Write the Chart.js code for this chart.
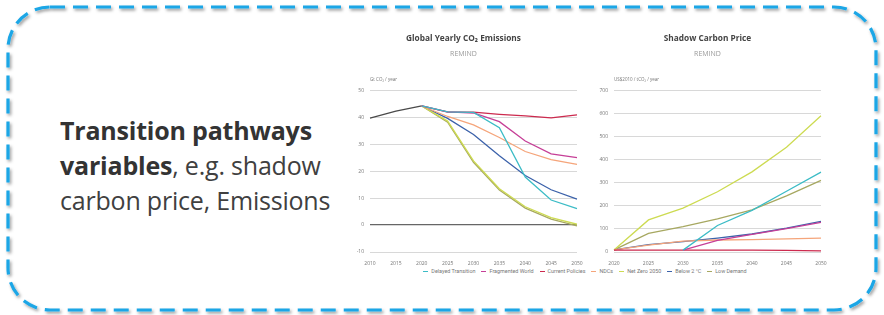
<!DOCTYPE html>
<html>
<head>
<meta charset="utf-8">
<script src="https://cdn.jsdelivr.net/npm/chart.js@4.4.1/dist/chart.umd.min.js"></script>
<style>
  html, body { margin: 0; padding: 0; background: #fff; }
  body { width: 884px; height: 315px; position: relative; overflow: hidden; }
  #frame { position: absolute; left: 0; top: 0; }
  #blurb {
    position: absolute; left: 60px; top: 113px;
    font-family: "Open Sans", sans-serif; font-size: 25px; line-height: 35px;
    color: #404040; letter-spacing: -0.2px;
  }
  #blurb b { color: #333; }
  .box { position: absolute; }
  #legend {
    position: absolute; left: 400px; top: 268px; width: 370px;
    display: flex; justify-content: center; gap: 6px;
    font-family: Roboto, sans-serif; font-size: 5.4px; color: #777;
  }
  #legend span.sw { display: inline-block; width: 5px; height: 1.3px; vertical-align: middle; margin-right: 3px; }
</style>
</head>
<body>
<svg id="frame" width="884" height="315">
  <defs>
    <filter id="sh" x="-5%" y="-5%" width="110%" height="110%">
      <feDropShadow dx="1.5" dy="2" stdDeviation="1.5" flood-color="#000" flood-opacity="0.4"/>
    </filter>
  </defs>
  <rect x="8" y="7" width="868" height="303" rx="42" ry="42" fill="none"
        stroke="#1aa6e6" stroke-width="3.2" stroke-dasharray="15 8" filter="url(#sh)"/>
</svg>
<div id="blurb"><b>Transition pathways<br>variables</b>, e.g. shadow<br>carbon price, Emissions</div>
<div class="box" style="left:350px;top:28px;width:240px;height:240px"><canvas id="emis"></canvas></div>
<div class="box" style="left:594px;top:28px;width:240px;height:240px"><canvas id="price"></canvas></div>
<div id="legend"></div>
<script>
// x labels
const emissionYears = ['2010','2015','2020','2025','2030','2035','2040','2045','2050'];
const priceYears = ['2020','2025','2030','2035','2040','2045','2050'];

const scenarioNames = ['Delayed Transition','Fragmented World','Current Policies','NDCs','Net Zero 2050','Below 2 °C','Low Demand'];
const scenarioColors = ['#3cbcc6','#c63f97','#cc2a4e','#f5a57b','#cddb52','#3c62aa','#a7a861'];

// Gt CO2 / year
const historyEmissions = [39.7, 42.3, 44.2, null, null, null, null, null, null];
const delayedEmissions    = [null, null, 44.2, 42.0, 41.8, 36.1, 17.8, 9.3, 6.1];
const fragmentedEmissions = [null, null, 44.2, 42.0, 41.6, 38.4, 31.2, 26.4, 25.0];
const currentEmissions    = [null, null, 44.2, 41.9, 41.9, 41.1, 40.5, 39.8, 40.9];
const ndcEmissions        = [null, null, 44.2, 40.3, 37.2, 32.5, 27.3, 24.3, 22.5];
const netZeroEmissions    = [null, null, 44.2, 38.6, 23.8, 13.5, 6.8, 2.8, 0.3];
const below2Emissions     = [null, null, 44.2, 39.6, 33.6, 25.7, 18.4, 13.1, 9.6];
const lowDemandEmissions  = [null, null, 44.2, 38.2, 23.3, 13.0, 6.3, 2.2, -0.3];

// US$2010 / tCO2
const delayedPrice    = [null, null, 8, 115, 180, 263, 346];
const fragmentedPrice = [null, null, 8, 50, 76, 101, 128];
const currentPrice    = [8, 8, 8, 8, 8, 7, 5];
const ndcPrice        = [9, 30, 47, 52, 54, 57, 60];
const netZeroPrice    = [9, 139, 190, 261, 347, 454, 590];
const below2Price     = [9, 32, 45, 60, 78, 103, 133];
const lowDemandPrice  = [9, 81, 110, 143, 182, 243, 310];

const emissionSeries = [delayedEmissions, fragmentedEmissions, currentEmissions, ndcEmissions, netZeroEmissions, below2Emissions, lowDemandEmissions];
const priceSeries = [delayedPrice, fragmentedPrice, currentPrice, ndcPrice, netZeroPrice, below2Price, lowDemandPrice];

const tickFont = { family: 'Open Sans', size: 5 };

function buildDatasets(series){
    return series.map((data, i) => ({
        label: scenarioNames[i],
        data: data,
        borderColor: scenarioColors[i],
        borderWidth: 1.3,
        pointRadius: 0,
        tension: 0,
        spanGaps: false
    }));
}

// small unit text above the plot area
const unitLabel = {
    id: 'unitLabel',
    afterDraw(chart, args, opts){
        const ctx = chart.ctx;
        ctx.save();
        ctx.font = '4.5px "Open Sans"';
        ctx.fillStyle = '#777';
        ctx.textBaseline = 'middle';
        ctx.fillText(opts.text, chart.chartArea.left, chart.chartArea.top - 11);
        ctx.restore();
    }
};

function initializeChart(element, labels, datasets, title, unit, yMin, yMax, yStep, zeroDark){
    return new Chart(element, {
        type: 'line',
        data: { labels: labels, datasets: datasets },
        plugins: [unitLabel],
        options: {
            responsive: true,
            maintainAspectRatio: false,
            animation: false,
            layout: { padding: { left: 0, right: 13, top: 0, bottom: 0 } },
            plugins: {
                legend: { display: false },
                tooltip: { enabled: false },
                title: {
                    display: true, text: title, color: '#444',
                    font: { family: 'Open Sans', size: 8.3, weight: 'bold' },
                    padding: { top: 6, bottom: 1 }
                },
                subtitle: {
                    display: true, text: 'REMIND', color: '#999',
                    font: { family: 'Open Sans', size: 7 },
                    padding: { top: 5, bottom: 32 }
                },
                unitLabel: { text: unit }
            },
            scales: {
                x: {
                    grid: { display: false },
                    border: { display: false },
                    ticks: { color: '#777', font: tickFont, padding: 1, maxRotation: 0, autoSkip: false },
                    afterFit(scale){ scale.height = 16; }
                },
                y: {
                    min: yMin, max: yMax,
                    grid: {
                        drawTicks: false,
                        color: ctx => (zeroDark && ctx.tick && ctx.tick.value === 0) ? '#666' : '#d8d8d8',
                        lineWidth: ctx => (zeroDark && ctx.tick && ctx.tick.value === 0) ? 1.2 : 1
                    },
                    border: { display: false },
                    ticks: { stepSize: yStep, color: '#777', font: tickFont, padding: 6 },
                    afterFit(scale){ scale.width = 20; }
                }
            }
        }
    });
}

const emisSets = buildDatasets(emissionSeries);
emisSets.push({
    label: 'History', data: historyEmissions, borderColor: '#4a4a4a',
    borderWidth: 1.3, pointRadius: 0, tension: 0
});

initializeChart(document.getElementById('emis'), emissionYears, emisSets,
    'Global Yearly CO₂ Emissions', 'Gt CO₂ / year', -10, 50, 10, true);
initializeChart(document.getElementById('price'), priceYears, buildDatasets(priceSeries),
    'Shadow Carbon Price', 'US$2010 / tCO₂ / year', 0, 700, 100, false);

// legend
const legend = document.getElementById('legend');
scenarioNames.forEach((name, i) => {
    const item = document.createElement('div');
    item.innerHTML = '<span class="sw" style="background:' + scenarioColors[i] + '"></span>' + name;
    legend.appendChild(item);
});
</script>
</body>
</html>
